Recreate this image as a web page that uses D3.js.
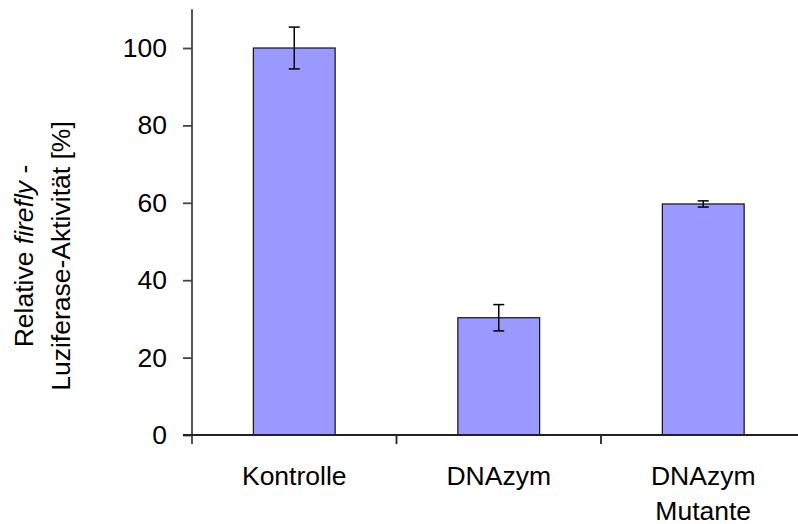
<!DOCTYPE html>
<html>
<head>
<meta charset="utf-8">
<script src="https://cdn.jsdelivr.net/npm/d3@7"></script>
<style>
  html, body { margin: 0; padding: 0; background: #fff; }
  svg { display: block; }
  text { font-family: "Liberation Sans", Arial, sans-serif; fill: #000; }
</style>
</head>
<body>
<svg id="chart" width="798" height="524"></svg>
<script>
// Relative firefly luciferase activity per treatment
const categories = [["Kontrolle"], ["DNAzym"], ["DNAzym", "Mutante"]];
const means = [100, 30.3, 59.7];
const errors = [5.4, 3.4, 0.8];
const yTicks = [0, 20, 40, 60, 80, 100];

const svg = d3.select("#chart");
const plotLeft = 192, plotRight = 805.5, plotTop = 9.3, plotBottom = 435;

const x = d3.scaleBand()
  .domain(categories.map((c, i) => i))
  .range([plotLeft, plotRight])
  .paddingInner(0).paddingOuter(0);

const y = d3.scaleLinear().domain([0, 110]).range([plotBottom, plotTop]);

const barW = x.bandwidth() * 0.4;
const fontSize = 26.5;

// bars
svg.append("g").selectAll("rect")
  .data(means)
  .join("rect")
  .attr("x", (d, i) => x(i) + (x.bandwidth() - barW) / 2)
  .attr("y", d => y(d))
  .attr("width", barW)
  .attr("height", d => y(0) - y(d))
  .attr("fill", "#9999ff")
  .attr("stroke", "#111")
  .attr("stroke-width", 1.2);

// error bars
const eb = svg.append("g").attr("stroke", "#000").attr("stroke-width", 1.5);
means.forEach((m, i) => {
  const cx = x(i) + x.bandwidth() / 2;
  const cap = 5.5;
  eb.append("line").attr("x1", cx).attr("x2", cx).attr("y1", y(m + errors[i])).attr("y2", y(m - errors[i]));
  eb.append("line").attr("x1", cx - cap).attr("x2", cx + cap).attr("y1", y(m + errors[i])).attr("y2", y(m + errors[i]));
  eb.append("line").attr("x1", cx - cap).attr("x2", cx + cap).attr("y1", y(m - errors[i])).attr("y2", y(m - errors[i]));
});

// y axis
const yAxis = svg.append("g")
  .attr("transform", `translate(${plotLeft},0)`)
  .call(d3.axisLeft(y).tickValues(yTicks).tickSize(9).tickPadding(16).tickSizeOuter(0));
yAxis.select(".domain").attr("d", `M0,${plotTop}V${plotBottom + 9}`);
yAxis.selectAll(".domain, .tick line").attr("stroke", "#444").attr("stroke-width", 1.8);
yAxis.selectAll(".tick text").attr("font-size", fontSize).attr("fill", "#000")
  .style("font-family", "'Liberation Sans', Arial, sans-serif");

// x axis
const xAxis = svg.append("g")
  .attr("transform", `translate(0,${plotBottom})`);
xAxis.append("line").attr("x1", plotLeft - 9).attr("x2", 798).attr("y1", 0).attr("y2", 0)
  .attr("stroke", "#222").attr("stroke-width", 1.8);
xAxis.selectAll("line.sep")
  .data(d3.range(1, categories.length))
  .join("line")
  .attr("class", "sep")
  .attr("x1", i => x(i)).attr("x2", i => x(i))
  .attr("y1", 0).attr("y2", 9)
  .attr("stroke", "#222").attr("stroke-width", 1.8);

// category labels
categories.forEach((lines, i) => {
  const cx = x(i) + x.bandwidth() / 2;
  const t = svg.append("text")
    .attr("text-anchor", "middle")
    .attr("font-size", fontSize)
    .attr("x", cx)
    .attr("y", 485);
  lines.forEach((s, k) => {
    t.append("tspan").attr("x", cx).attr("dy", k === 0 ? 0 : 34.5).text(s);
  });
});

// y axis title
const title = svg.append("text")
  .attr("text-anchor", "middle")
  .attr("font-size", fontSize)
  .attr("transform", "translate(33,256) rotate(-90)");
const l1 = title.append("tspan").attr("x", 0).attr("y", 0);
l1.append("tspan").text("Relative ");
l1.append("tspan").attr("font-style", "italic").text("firefly");
l1.append("tspan").text(" -");
title.append("tspan").attr("x", 0).attr("y", 37).text("Luziferase-Aktivität [%]");
</script>
</body>
</html>
